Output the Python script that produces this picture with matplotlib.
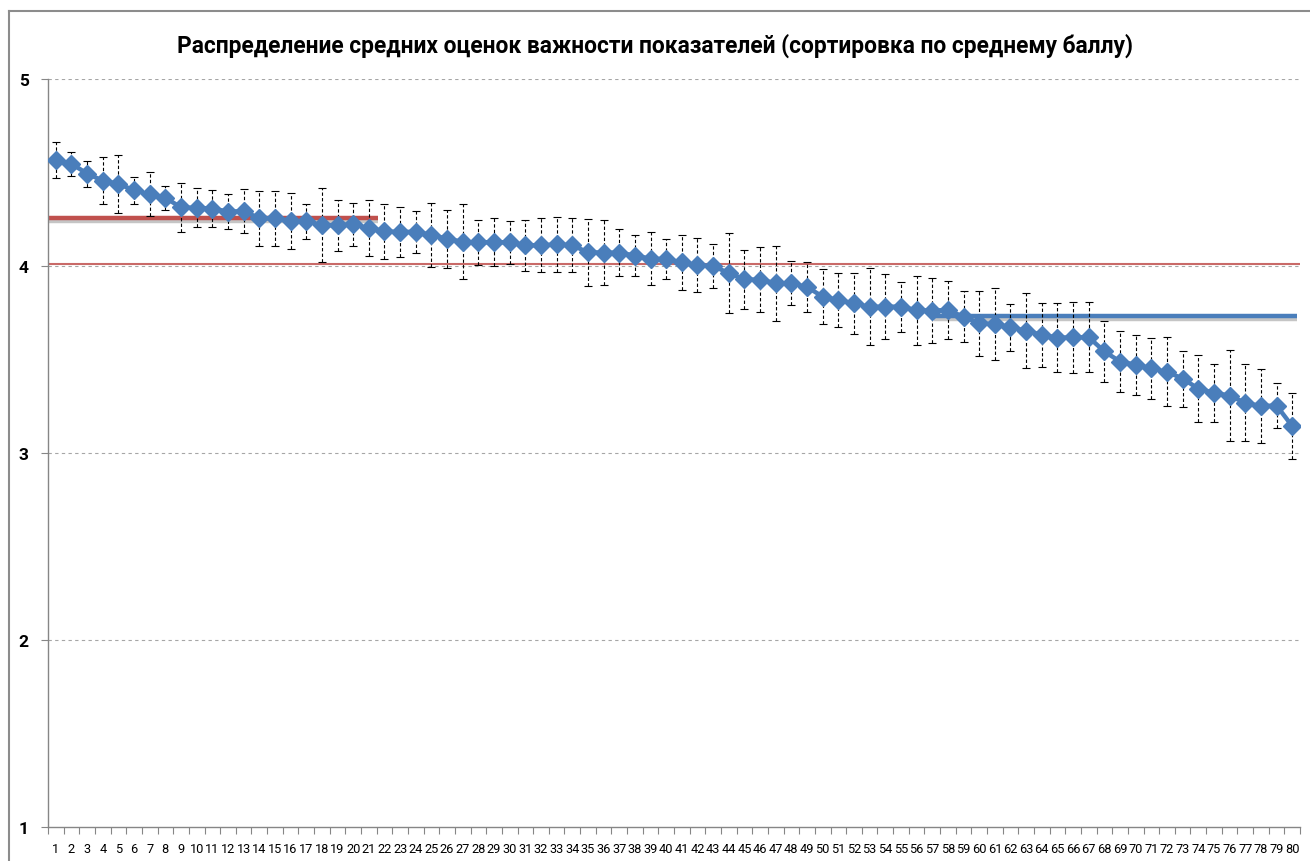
import numpy as np
import matplotlib
matplotlib.use("Agg")
import matplotlib.pyplot as plt
import matplotlib.patheffects as pe
from matplotlib.lines import Line2D

plt.rcParams['font.family'] = ['Roboto', 'DejaVu Sans']

title = "Распределение средних оценок важности показателей (сортировка по среднему баллу)"

categories = list(range(1, 81))

means = [4.567, 4.547, 4.494, 4.456, 4.439, 4.405, 4.383, 4.365, 4.313, 4.311,
         4.307, 4.291, 4.293, 4.256, 4.256, 4.240, 4.238, 4.219, 4.218, 4.222,
         4.203, 4.185, 4.182, 4.183, 4.166, 4.146, 4.129, 4.126, 4.128, 4.126,
         4.111, 4.111, 4.115, 4.111, 4.073, 4.072, 4.071, 4.056, 4.039, 4.037,
         4.019, 4.004, 4.000, 3.962, 3.929, 3.926, 3.908, 3.908, 3.888, 3.836,
         3.817, 3.800, 3.782, 3.782, 3.783, 3.763, 3.762, 3.764, 3.729, 3.694,
         3.690, 3.672, 3.654, 3.632, 3.617, 3.618, 3.619, 3.543, 3.489, 3.472,
         3.452, 3.434, 3.398, 3.344, 3.322, 3.307, 3.268, 3.251, 3.254, 3.144]

errors = [0.098, 0.064, 0.070, 0.125, 0.155, 0.073, 0.118, 0.064, 0.130, 0.104,
          0.100, 0.094, 0.118, 0.147, 0.147, 0.149, 0.094, 0.196, 0.136, 0.113,
          0.150, 0.147, 0.135, 0.113, 0.170, 0.155, 0.200, 0.120, 0.127, 0.117,
          0.136, 0.144, 0.149, 0.144, 0.178, 0.174, 0.127, 0.110, 0.141, 0.107,
          0.147, 0.144, 0.118, 0.214, 0.159, 0.174, 0.200, 0.117, 0.132, 0.148,
          0.145, 0.163, 0.205, 0.175, 0.134, 0.185, 0.174, 0.154, 0.137, 0.173,
          0.190, 0.125, 0.200, 0.170, 0.185, 0.190, 0.187, 0.165, 0.165, 0.160,
          0.163, 0.184, 0.150, 0.180, 0.154, 0.244, 0.206, 0.200, 0.120, 0.175]

y_ticks = [1, 2, 3, 4, 5]

# reference levels: (value, x_start, x_end)
red_thick_level = (4.255, 0.5, 21.6)
red_thin_level = (4.010, 0.5, 80.5)
blue_level = (3.733, 57.1, 80.3)

BLUE = '#4A7EBB'
RED = '#C0504D'

fig = plt.figure(figsize=(13.1, 8.62), dpi=100)
ax = fig.add_axes([48/1310, 1 - 828/862, (1300-48)/1310, (828-80)/862])

ax.set_xlim(0.5, 80.5)
ax.set_ylim(1, 5)

# gridlines
for yv in y_ticks[1:]:
    ax.axhline(yv, color='#A6A6A6', lw=0.8, ls=(0, (3, 3)), zorder=1)

# reference lines
shadow = [pe.SimpleLineShadow(offset=(0, -2), shadow_color='#808080', alpha=0.45), pe.Normal()]
ax.plot([red_thin_level[1], red_thin_level[2]], [red_thin_level[0]] * 2,
        color=RED, lw=1.5, alpha=0.85, zorder=2, solid_capstyle='butt')
ax.plot([red_thick_level[1], red_thick_level[2]], [red_thick_level[0]] * 2,
        color=RED, lw=3.2, zorder=2, solid_capstyle='butt', path_effects=shadow)
ax.plot([blue_level[1], blue_level[2]], [blue_level[0]] * 2,
        color=BLUE, lw=3.2, zorder=2, solid_capstyle='butt', path_effects=shadow)

# error bars
eb = ax.errorbar(categories, means, yerr=errors, fmt='none', ecolor='black',
                 elinewidth=0.8, capsize=3, capthick=0.8, zorder=3)
for col in eb[2]:
    col.set_linestyle((0, (3, 2)))

# series
ax.plot(categories, means, color=BLUE, lw=3.2, marker='D', markersize=9.5,
        markerfacecolor=BLUE, markeredgecolor=BLUE, zorder=4)

# axes styling
for s in ['top', 'right']:
    ax.spines[s].set_visible(False)
for s in ['left', 'bottom']:
    ax.spines[s].set_color('#868686')
    ax.spines[s].set_linewidth(1.0)

ax.set_yticks(y_ticks)
ax.set_yticklabels([str(v) for v in y_ticks], fontsize=12.5, fontweight='bold')
ax.tick_params(axis='y', length=5, width=0.8, color='#868686', pad=9)

ax.set_xticks(categories)
ax.set_xticklabels([str(c) for c in categories], fontsize=9.2)
ax.tick_params(axis='x', which='major', length=0, pad=11)
ax.set_xticks(np.arange(0.5, 81, 1), minor=True)
ax.tick_params(axis='x', which='minor', length=5, width=0.8, color='#868686')

fig.text(0.5, 1 - 46/862, title, ha='center', va='center', fontsize=16.4, fontweight='bold')

# chart frame (partially visible)
fx = 9/1310
fy = 1 - 12/862
fig.add_artist(Line2D([fx, fx], [0, fy], transform=fig.transFigure, color='#8C8C8C', lw=1.5))
fig.add_artist(Line2D([fx, 1], [fy, fy], transform=fig.transFigure, color='#8C8C8C', lw=1.5))

fig.savefig('out.png', dpi=100)
